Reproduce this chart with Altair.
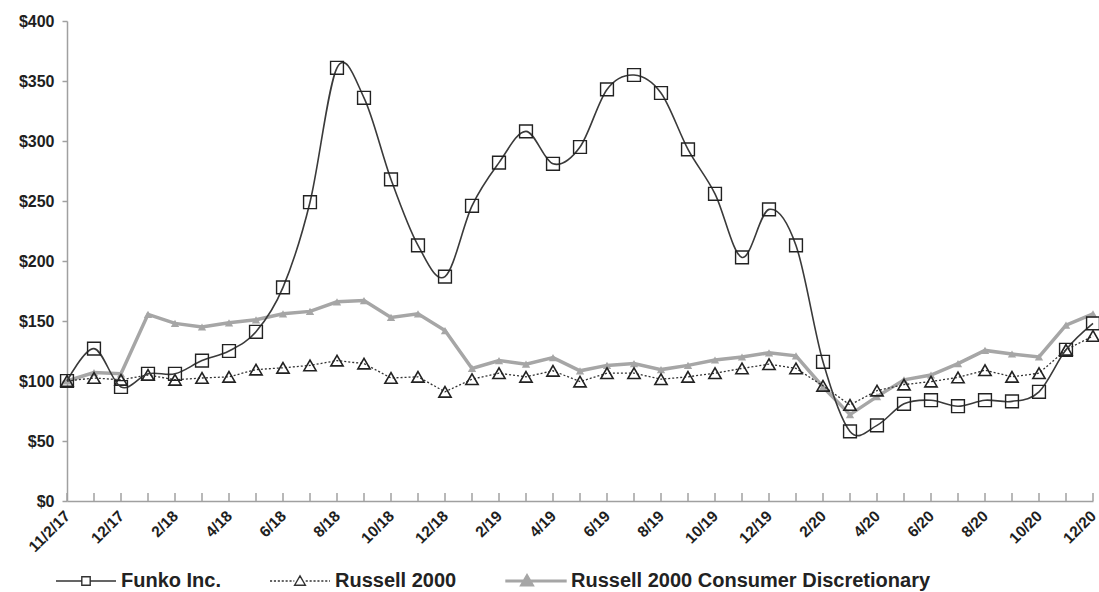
import altair as alt
import pandas as pd

# ---------------- data ----------------
dates = ["11/2/17", "11/17", "12/17",
         "1/18", "2/18", "3/18", "4/18", "5/18", "6/18", "7/18", "8/18", "9/18", "10/18", "11/18", "12/18",
         "1/19", "2/19", "3/19", "4/19", "5/19", "6/19", "7/19", "8/19", "9/19", "10/19", "11/19", "12/19",
         "1/20", "2/20", "3/20", "4/20", "5/20", "6/20", "7/20", "8/20", "9/20", "10/20", "11/20", "12/20"]

funko = [100, 127, 95, 106, 106, 117, 125, 141, 178, 249, 361, 336, 268, 213, 187,
         246, 282, 308, 281, 295, 343, 355, 340, 293, 256, 203, 243,
         213, 116, 58, 63, 81, 84, 79, 84, 83, 91, 126, 148]

russell2000 = [100, 102.5, 101, 105, 101, 102.5, 103.5, 109.5, 111, 113, 117, 114.5, 102.5, 103.5, 91,
               101.5, 106.5, 103.5, 108.5, 99.5, 106.5, 106.5, 101.5, 103.5, 106.5, 110.5, 114,
               110.5, 96, 80, 92, 97, 99.5, 103, 109, 103.5, 106.5, 126, 137.5]

consumer_disc = [100, 107, 106, 155.5, 148, 145, 148.5, 151, 156, 158, 166, 167, 153, 156, 142,
                 110.5, 117, 114, 119.5, 108.5, 113, 114.5, 109.5, 113, 117.5, 120, 123.5,
                 121, 95, 72, 87, 101, 105, 114.5, 125.5, 122.5, 120, 146.5, 156]

series_names = ["Funko Inc.", "Russell 2000", "Russell 2000 Consumer Discretionary"]
y_ticks = [0, 50, 100, 150, 200, 250, 300, 350, 400]
x_labels = dates[::2]

# ---------------- tables ----------------
df_f = pd.DataFrame({"date": dates, "value": funko})
df_r = pd.DataFrame({"date": dates, "value": russell2000})
df_c = pd.DataFrame({"date": dates, "value": consumer_disc})
df_leg = pd.DataFrame({"series": series_names})

W, H = 1026, 480
FONT = "Liberation Sans"
AXIS_GRAY = "#a0a0a0"
DARK = "#333333"
LIGHT = "#a6a6a6"

x_enc = alt.X("date:N", sort=dates,
              scale=alt.Scale(type="point", padding=0),
              axis=alt.Axis(values=x_labels, title=None, ticks=False, grid=False,
                            domainColor=AXIS_GRAY, domainWidth=1.5,
                            labelAngle=315, labelAlign="right", labelBaseline="middle",
                            labelPadding=12, labelFont=FONT, labelFontSize=15.5,
                            labelFontWeight="bold", labelColor="#1e1e1e"))
y_enc = alt.Y("value:Q", scale=alt.Scale(domain=[0, 400], nice=False, zero=True),
              axis=alt.Axis(values=y_ticks, format="$.0f", title=None, grid=False,
                            domainColor=AXIS_GRAY, domainWidth=1.5,
                            tickColor=AXIS_GRAY, tickSize=5, tickWidth=1.5,
                            labelPadding=8, labelFont=FONT, labelFontSize=16,
                            labelFontWeight="bold", labelColor="#1e1e1e"))

# inward x ticks (decoration at every category)
ticks = alt.Chart(df_f).mark_rule(color=AXIS_GRAY, strokeWidth=1.5).encode(
    x=x_enc, y=alt.value(H), y2=alt.value(H - 8))

cons_line = alt.Chart(df_c).mark_line(color=LIGHT, strokeWidth=3.5).encode(x=x_enc, y=y_enc)
cons_pts = alt.Chart(df_c).mark_point(shape="triangle-up", size=70, filled=True,
                                      color=LIGHT, opacity=1).encode(x=x_enc, y=y_enc)

rus_line = alt.Chart(df_r).mark_line(color=DARK, strokeWidth=1.3, strokeDash=[2, 2]).encode(x=x_enc, y=y_enc)
rus_pts = alt.Chart(df_r).mark_point(shape="triangle-up", size=150, filled=False,
                                     color="#222222", strokeWidth=1.6, opacity=1).encode(x=x_enc, y=y_enc)

fun_line = alt.Chart(df_f).mark_line(color="#3a3a3a", strokeWidth=1.6,
                                     interpolate="cardinal").encode(x=x_enc, y=y_enc)
fun_pts = alt.Chart(df_f).mark_point(shape="square", size=165, filled=False,
                                     color="#222222", strokeWidth=1.4, opacity=1).encode(x=x_enc, y=y_enc)

# ---------------- legend symbols (line + marker glyphs) ----------------
def dotted(a, b, dash=0.07, gap=0.06):
    segs = []
    x = a
    while x < b - 1e-9:
        e = min(x + dash, b)
        segs.append("M%.3f,0L%.3f,0" % (x, e))
        x = e + gap
    return "".join(segs)

p_funko = "M-1,0L-0.14,0M0.14,0L1,0M-0.14,-0.14L0.14,-0.14L0.14,0.14L-0.14,0.14Z"
p_rus = dotted(-1, -0.19) + dotted(0.19, 1) + "M0,-0.17L0.18,0.14L-0.18,0.14Z"
p_cons = "M-1,-0.03L1,-0.03L1,0.03L-1,0.03ZM-0.3,-0.22L-0.08,0.16L-0.52,0.16Z"

cons_name = series_names[2]
stroke_expr = "datum.value == '%s' ? '%s' : '%s'" % (cons_name, LIGHT, DARK)
fill_expr = "datum.value == '%s' ? '%s' : 'transparent'" % (cons_name, LIGHT)

legend_layer = alt.Chart(df_leg).mark_point(
    opacity=1, filled=False, strokeWidth=1.4,
    fill={"expr": fill_expr}, stroke={"expr": stroke_expr},
).encode(
    shape=alt.Shape("series:N",
                    scale=alt.Scale(domain=series_names, range=[p_funko, p_rus, p_cons]),
                    legend=alt.Legend(
                        title=None, orient="none", direction="horizontal",
                        legendX=-12, legendY=529, padding=0,
                        symbolSize=3600, symbolStrokeWidth=1.4,
                        labelFont=FONT, labelFontSize=20, labelFontWeight="bold",
                        labelColor="#222222", labelOffset=4, columnPadding=46,
                        labelLimit=0))
).transform_filter("false")

chart = alt.layer(
    ticks, cons_line, cons_pts, rus_line, rus_pts, fun_line, fun_pts, legend_layer
).properties(
    width=W, height=H,
    autosize=alt.AutoSizeParams(type="none"),
    padding={"left": 67, "top": 21, "right": 6, "bottom": 91},
    background="white",
).configure_view(stroke=None)

chart.save("out.html", embed_options={"renderer": "svg", "actions": False})
